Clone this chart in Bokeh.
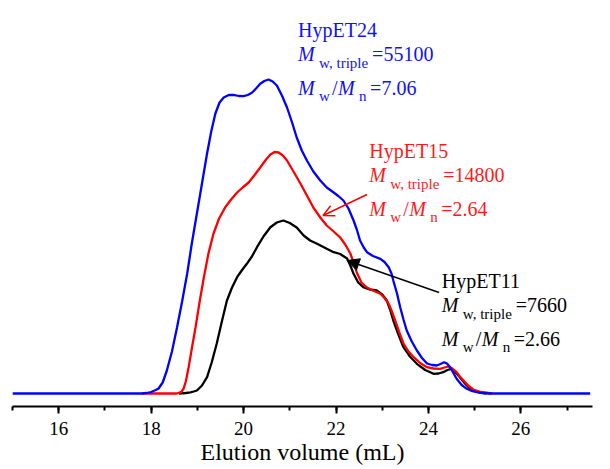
from bokeh.plotting import figure
from bokeh.models import Range1d, Label, Arrow, NormalHead, OpenHead, SingleIntervalTicker
from bokeh.embed import file_html
from bokeh.resources import INLINE

# ---------------- data (elution volume in mL, detector signal in arbitrary units) ----------------
blue_x = [15.00, 17.80, 17.90, 18.00, 18.10, 18.16, 18.25, 18.34, 18.45, 18.56, 18.67, 18.78, 18.88,
          18.99, 19.10, 19.21, 19.30, 19.39, 19.48, 19.57, 19.68, 19.78, 19.90, 20.00, 20.09, 20.18,
          20.27, 20.36, 20.45, 20.54, 20.63, 20.72, 20.83, 20.94, 21.05, 21.15, 21.26, 21.37, 21.51,
          21.66, 21.80, 21.95, 22.05, 22.16, 22.27, 22.38, 22.45, 22.52, 22.60, 22.67, 22.80, 22.96,
          23.05, 23.14, 23.20, 23.24, 23.32, 23.39, 23.46, 23.53, 23.64, 23.75, 23.86, 23.97, 24.08,
          24.18, 24.26, 24.34, 24.40, 24.47, 24.54, 24.61, 24.72, 24.83, 24.95, 25.12, 25.30, 27.50]
blue_y = [0, 0, 0.5, 1.5, 3.5, 5, 11, 23, 42, 66, 92, 120, 150,
          180, 210, 240, 262, 280, 291, 296, 298.5, 298.7, 297.5, 297.3, 298.5, 300.7,
          305, 309.7, 312.5, 314, 312, 308, 298, 286, 271, 256, 243, 233, 222,
          213, 206, 201, 197.5, 193, 185, 173, 164, 153, 146, 141.3, 137.5, 134.7,
          131.5, 126.3, 120, 113, 100, 86, 74, 63, 52, 43, 35.5, 30, 28.5,
          28, 29.5, 31.3, 30, 26.3, 20.5, 14.7, 8.5, 4.7, 2.3, 0.7, 0, 0]

red_x = [17.80, 18.55, 18.62, 18.66, 18.70, 18.75, 18.81, 18.88, 18.96, 19.05, 19.14, 19.24, 19.35,
         19.47, 19.60, 19.73, 19.86, 19.98, 20.11, 20.23, 20.36, 20.47, 20.58, 20.67, 20.76, 20.85,
         20.94, 21.08, 21.23, 21.37, 21.51, 21.66, 21.80, 21.95, 22.09, 22.20, 22.31, 22.38, 22.45,
         22.55, 22.67, 22.80, 22.96, 23.05, 23.14, 23.21, 23.28, 23.37, 23.46, 23.57, 23.68, 23.82,
         23.97, 24.11, 24.25, 24.35, 24.43, 24.52, 24.61, 24.68, 24.76, 24.86, 24.97, 25.10, 25.30, 25.38]
red_y = [0, 0, 0.8, 2, 4.7, 12, 26, 45, 66, 92, 116, 140, 160,
         175, 186, 194, 201, 206, 211, 218, 226, 233, 239, 241.5, 241, 238,
         233, 222, 210, 198, 186, 176, 168, 162, 156, 149, 140, 131, 121,
         111, 106, 103, 99.7, 95.5, 89.7, 82, 73, 61, 50, 42, 36.3, 30.5,
         26.3, 25, 24.7, 26, 27, 25, 21.3, 17, 13, 8, 4, 1.8, 0.5, 0]

black_x = [18.60, 18.75, 18.85, 18.92, 18.99, 19.10, 19.21, 19.31, 19.42, 19.53, 19.64, 19.75, 19.86,
           19.96, 20.07, 20.18, 20.29, 20.43, 20.58, 20.72, 20.86, 21.00, 21.15, 21.30, 21.44, 21.59,
           21.80, 21.95, 22.09, 22.24, 22.31, 22.38, 22.48, 22.59, 22.73, 22.88, 23.00, 23.10, 23.17,
           23.24, 23.35, 23.46, 23.60, 23.75, 23.93, 24.11, 24.22, 24.32, 24.41, 24.50, 24.59, 24.68,
           24.79, 24.90, 25.05, 25.19, 25.25]
black_y = [0, 0.5, 1.2, 2, 3, 8, 16.3, 31, 50, 72, 93, 106, 116.3,
           123, 129.7, 137, 146.3, 157, 166.3, 171, 173, 170.5, 166, 158, 153, 149.7,
           144.7, 141.3, 139.5, 135, 128, 119.7, 111, 106.3, 104, 103, 99, 93, 84,
           73, 59, 46.3, 37, 29.7, 23.5, 19.7, 20, 21.3, 23.5, 24.7, 21, 16.3,
           10, 4.7, 1.8, 0.5, 0]

sample_names = ["HypET24", "HypET15", "HypET11"]
mw_triple = ["55100", "14800", "7660"]
dispersity = ["7.06", "2.64", "2.66"]
x_title = "Elution volume (mL)"

# ---------------- figure ----------------
p = figure(width=610, height=469, output_backend="svg", toolbar_location=None,
           x_range=Range1d(15, 27.55), y_range=Range1d(-13, 393),
           y_axis_location=None,
           min_border_left=12, min_border_right=18, min_border_top=0, min_border_bottom=63)
p.outline_line_color = None
p.grid.visible = False
p.background_fill_color = "white"
p.border_fill_color = "white"

p.line(black_x, black_y, line_color="black", line_width=2.3)
p.line(red_x, red_y, line_color="#ff0000", line_width=2.3)
p.line(blue_x, blue_y, line_color="#0000ff", line_width=2.3)

ax = p.xaxis[0]
ax.ticker = SingleIntervalTicker(interval=2, num_minor_ticks=2)
ax.axis_line_width = 2
ax.axis_line_color = "black"
ax.major_tick_line_width = 2
ax.minor_tick_line_width = 2
ax.major_tick_out = 7
ax.major_tick_in = 0
ax.minor_tick_out = 4
ax.minor_tick_in = 0
ax.major_label_text_font = "Liberation Serif"
ax.major_label_text_font_size = "19px"
ax.major_label_text_color = "black"
ax.major_label_standoff = 8
ax.axis_label = x_title
ax.axis_label_text_font = "Liberation Serif"
ax.axis_label_text_font_size = "24px"
ax.axis_label_text_font_style = "normal"
ax.axis_label_text_color = "black"
ax.axis_label_standoff = 1

# ---------------- annotations ----------------
FONT = "Liberation Serif"
blocks = [  # anchor (x in mL, y in signal units) of the first baseline, colour
    (21.18, 364, "#1010ff"),
    (22.72, 243, "#ff1a1a"),
    (24.29, 113, "black"),
]


def lab(x, y, text, color, dx=0, dy=0, size="20px", style="normal"):
    p.add_layout(Label(x=x, y=y, x_offset=dx, y_offset=dy, text=text,
                       text_font=FONT, text_font_size=size, text_font_style=style,
                       text_color=color, text_align="left", text_baseline="alphabetic"))


for name, mw, pdi, (bx, by, col) in zip(sample_names, mw_triple, dispersity, blocks):
    lab(bx, by, name, col)
    # M_w, triple = ...
    lab(bx, by, "M", col, dy=-24, style="italic")
    lab(bx, by, "w, triple", col, dx=21, dy=-33, size="15px")
    lab(bx, by, "=" + mw, col, dx=74, dy=-24)
    # M_w / M_n = ...
    lab(bx, by, "M", col, dy=-58, style="italic")
    lab(bx, by, "w", col, dx=21, dy=-66, size="15px")
    lab(bx, by, "/", col, dx=34, dy=-58)
    lab(bx, by, "M", col, dx=40, dy=-58, style="italic")
    lab(bx, by, "n", col, dx=61, dy=-66, size="15px")
    lab(bx, by, "=" + pdi, col, dx=72, dy=-58)

p.add_layout(Arrow(end=OpenHead(size=11, line_color="#ff0000", line_width=1.5),
                   x_start=22.67, y_start=199, x_end=21.72, y_end=178,
                   line_color="#ff0000", line_width=1.5))
p.add_layout(Arrow(end=NormalHead(size=12, fill_color="black", line_color="black", line_width=1),
                   x_start=24.23, y_start=101, x_end=22.24, y_end=133,
                   line_color="black", line_width=1.5))

open("out.html", "w").write(file_html(p, INLINE))
